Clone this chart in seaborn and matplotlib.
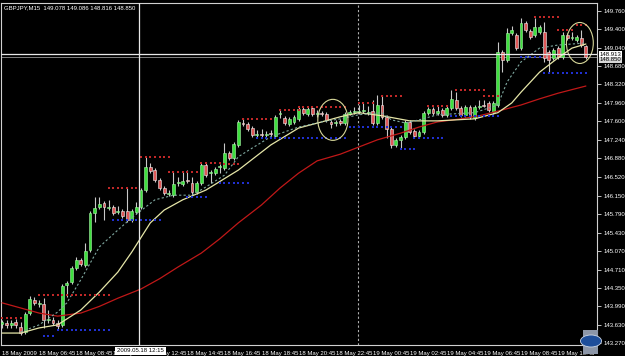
import numpy as np
import pandas as pd
import matplotlib
matplotlib.use("Agg")
import matplotlib.pyplot as plt
import matplotlib.transforms as mtransforms
from matplotlib.patches import Ellipse, Rectangle, Circle
import seaborn as sns

# ---------------- data (GBPJPY M15) ----------------
opens = [143.65, 143.67, 143.63, 143.69, 143.59, 143.49, 143.86, 144.12, 144.04, 144.04,
         143.73, 143.73, 143.67, 143.63, 144.41, 144.47, 144.74, 144.90, 144.80, 145.09,
         145.81, 145.93, 146.01, 145.91, 145.93, 145.83, 145.85, 145.85, 145.68, 145.83,
         145.93, 146.26, 146.71, 146.65, 146.46, 146.30, 146.18, 146.16, 146.40, 146.38,
         146.46, 146.40, 146.22, 146.40, 146.75, 146.59, 146.59, 146.71, 146.69, 146.98,
         146.89, 147.14, 147.57, 147.55, 147.47, 147.33, 147.35, 147.33, 147.37, 147.32,
         147.75, 147.67, 147.55, 147.59, 147.65, 147.84, 147.75, 147.86, 147.75, 147.77,
         147.75, 147.59, 147.57, 147.61, 147.57, 147.75, 147.79, 147.79, 147.81, 147.77,
         147.81, 147.57, 147.92, 147.69, 147.45, 147.14, 147.24, 147.30, 147.59, 147.41,
         147.32, 147.39, 147.77, 147.84, 147.77, 147.82, 147.73, 147.86, 148.02, 147.86,
         147.73, 147.88, 147.67, 147.88, 147.92, 147.96, 147.79, 147.92, 148.95, 148.80,
         149.33, 149.29, 149.03, 149.52, 149.36, 149.29, 149.35, 149.35, 148.95, 148.84,
         149.03, 148.86, 149.29, 149.23, 149.19, 149.23, 149.08]
highs = [143.73, 143.73, 143.73, 143.74, 143.69, 143.88, 144.19, 144.17, 144.12, 144.15,
         143.92, 143.78, 143.73, 144.43, 144.49, 144.78, 144.95, 144.93, 145.23, 145.85,
         146.12, 146.12, 146.05, 146.07, 145.97, 145.95, 145.89, 146.30, 145.89, 146.03,
         146.30, 146.91, 146.79, 146.69, 146.50, 146.34, 146.26, 146.61, 146.52, 146.61,
         146.65, 146.52, 146.44, 146.79, 146.79, 146.65, 146.71, 146.77, 147.18, 147.02,
         147.20, 147.63, 147.67, 147.59, 147.51, 147.43, 147.45, 147.41, 147.43, 147.73,
         147.84, 147.71, 147.69, 147.73, 147.88, 147.88, 147.88, 147.90, 147.82, 147.81,
         147.79, 147.63, 147.63, 147.65, 147.79, 147.82, 147.88, 147.92, 147.96, 147.90,
         148.02, 148.11, 148.11, 147.73, 147.49, 147.28, 147.33, 147.63, 147.63, 147.45,
         147.43, 147.81, 147.88, 147.88, 147.90, 147.86, 147.92, 148.21, 148.17, 147.90,
         147.92, 147.92, 147.92, 148.02, 148.02, 148.00, 148.00, 149.15, 148.99, 149.42,
         149.46, 149.33, 149.62, 149.56, 149.40, 149.62, 149.48, 149.54, 148.99, 149.03,
         149.07, 149.35, 149.33, 149.35, 149.29, 149.38, 149.09]
lows = [143.57, 143.57, 143.57, 143.57, 143.43, 143.45, 143.82, 144.02, 143.98, 143.57,
        143.67, 143.63, 143.53, 143.59, 144.17, 144.43, 144.70, 144.78, 144.76, 145.05,
        145.64, 145.89, 145.68, 145.87, 145.78, 145.79, 145.72, 145.64, 145.64, 145.79,
        145.89, 146.22, 146.59, 146.42, 146.26, 146.16, 146.14, 146.12, 146.34, 146.34,
        146.40, 146.12, 146.18, 146.36, 146.52, 146.40, 146.55, 146.59, 146.65, 146.85,
        146.85, 147.10, 147.51, 147.41, 147.30, 147.30, 147.30, 147.30, 147.32, 147.28,
        147.67, 147.53, 147.51, 147.55, 147.61, 147.73, 147.71, 147.71, 147.69, 147.71,
        147.59, 147.47, 147.51, 147.53, 147.53, 147.73, 147.75, 147.75, 147.77, 147.73,
        147.53, 147.53, 147.65, 147.28, 147.08, 147.10, 147.08, 147.26, 147.35, 147.28,
        147.28, 147.35, 147.73, 147.73, 147.73, 147.69, 147.69, 147.82, 147.82, 147.69,
        147.69, 147.65, 147.63, 147.84, 147.88, 147.79, 147.75, 147.88, 148.56, 148.76,
        149.29, 148.99, 148.99, 149.35, 149.21, 149.25, 149.31, 148.76, 148.55, 148.80,
        148.82, 148.82, 149.19, 149.19, 149.15, 149.05, 148.82]
closes = [143.69, 143.63, 143.67, 143.63, 143.47, 143.84, 144.13, 144.06, 144.06, 143.73,
          143.74, 143.67, 143.61, 144.39, 144.45, 144.74, 144.90, 144.82, 145.07, 145.81,
          145.91, 145.99, 145.93, 145.93, 145.81, 145.85, 145.76, 145.68, 145.85, 145.93,
          146.26, 146.71, 146.63, 146.46, 146.30, 146.20, 146.20, 146.38, 146.42, 146.44,
          146.44, 146.22, 146.40, 146.75, 146.55, 146.61, 146.67, 146.73, 146.98, 146.89,
          147.16, 147.59, 147.55, 147.45, 147.33, 147.35, 147.33, 147.35, 147.35, 147.69,
          147.77, 147.57, 147.65, 147.69, 147.84, 147.77, 147.84, 147.75, 147.77, 147.75,
          147.63, 147.55, 147.59, 147.57, 147.75, 147.79, 147.79, 147.81, 147.82, 147.79,
          147.57, 147.92, 147.69, 147.45, 147.14, 147.24, 147.30, 147.59, 147.39, 147.32,
          147.39, 147.77, 147.84, 147.77, 147.81, 147.73, 147.86, 148.04, 147.86, 147.73,
          147.88, 147.69, 147.88, 147.90, 147.91, 147.82, 147.96, 148.95, 148.80, 149.33,
          149.38, 149.03, 149.52, 149.38, 149.25, 149.44, 149.44, 148.84, 148.80, 148.99,
          148.86, 149.29, 149.23, 149.25, 149.25, 149.09, 148.85]

# slow moving average (red)
slow_ma_idx = [0, 4, 8, 12, 17, 21, 25, 30, 34, 38, 43, 47, 51, 56, 60, 64, 68, 73, 77, 81,
               86, 90, 94, 99, 103, 107, 112, 116, 120, 126]
slow_ma_val = [144.06, 143.96, 143.86, 143.80, 143.86, 143.99, 144.15, 144.33, 144.53, 144.76,
               145.03, 145.31, 145.62, 145.97, 146.30, 146.59, 146.83, 146.96, 147.10, 147.24,
               147.37, 147.49, 147.59, 147.65, 147.71, 147.80, 147.92, 148.04, 148.15, 148.29]
# medium moving average (pale yellow)
mid_ma_idx = [0, 4, 8, 12, 17, 21, 25, 28, 32, 35, 39, 44, 51, 58, 64, 69, 73, 77, 82, 88,
              94, 102, 107, 110, 112, 116, 120, 123, 126]
mid_ma_val = [143.47, 143.47, 143.57, 143.63, 143.92, 144.27, 144.66, 145.05, 145.62, 145.87,
              146.07, 146.26, 146.65, 147.14, 147.47, 147.59, 147.69, 147.77, 147.71, 147.61,
              147.61, 147.65, 147.77, 147.96, 148.17, 148.56, 148.84, 149.03, 149.11]
# fast moving average (dashed)
fast_ma_idx = [4, 8, 12, 14, 17, 21, 25, 28, 33, 37, 41, 44, 48, 51, 54, 58, 64, 69, 73, 77,
               82, 84, 87, 90, 94, 102, 107, 109, 112, 116, 120, 126]
fast_ma_val = [143.49, 143.63, 143.88, 144.06, 144.51, 145.15, 145.48, 145.72, 146.07, 146.16,
               146.16, 146.32, 146.55, 146.91, 147.08, 147.30, 147.49, 147.59, 147.65, 147.73,
               147.77, 147.63, 147.57, 147.63, 147.73, 147.77, 147.92, 148.37, 148.76, 149.03,
               149.09, 149.13]

# fractal-style levels: (price, first bar, last bar)
res_price = [143.76, 144.21, 146.30, 146.91, 146.61, 146.79, 146.77, 147.65, 147.82, 147.88,
             147.96, 148.10, 147.90, 148.21, 148.10, 149.64, 149.38, 149.48]
res_start = [0, 8, 23, 30, 36, 43, 48, 52, 60, 64, 77, 82, 92, 98, 104, 115, 120, 124]
res_end = [4, 23, 29, 36, 42, 47, 51, 58, 64, 74, 80, 86, 96, 104, 107, 120, 123, 126]
sup_price = [143.41, 143.53, 145.68, 146.12, 146.40, 147.28, 147.28, 147.49, 147.06, 147.28,
             147.71, 148.86, 148.55]
sup_start = [9, 12, 24, 40, 47, 55, 64, 75, 86, 89, 97, 112, 117]
sup_end = [11, 23, 34, 44, 53, 64, 74, 86, 89, 95, 107, 116, 126]

ytick_vals = [149.760, 149.400, 149.040, 148.680, 148.320, 147.960, 147.600, 147.240, 146.880,
              146.520, 146.150, 145.790, 145.430, 145.070, 144.710, 144.350, 143.990, 143.630,
              143.270]
ytick_labels = ["149.760", "149.400", "149.040", "148.680", "148.320", "147.960", "147.600",
                "147.240", "146.880", "146.520", "146.150", "145.790", "145.430", "145.070",
                "144.710", "144.350", "143.990", "143.630", "143.270"]
xtick_idx = [0, 8, 16, 24, 32, 40, 48, 56, 64, 72, 80, 88, 96, 104, 112, 120]
xtick_labels = ["18 May 2009", "18 May 06:45", "18 May 08:45", "18 May 10:45", "18 May 12:45",
                "18 May 14:45", "18 May 16:45", "18 May 18:45", "18 May 20:45", "18 May 22:45",
                "19 May 00:45", "19 May 02:45", "19 May 04:45", "19 May 06:45", "19 May 08:45",
                "19 May 10:45"]
title_text = "GBPJPY,M15  149.078 149.086 148.816 148.850"
cross_price = 148.913
cross_bar = 29.6
cross_label = "2009.05.18 12:15"
bid_price = 148.850
day_sep_bar = 76.8
circles = [(71.4, 147.63, 6.5, 0.80), (124.7, 149.13, 5.8, 0.80)]

# ---------------- figure ----------------
sns.set_style("dark")
FONT = ["Liberation Sans", "DejaVu Sans"]
plt.rcParams["font.family"] = FONT
FS = 4.3

W, H = 625, 356
fig = plt.figure(figsize=(W / 100, H / 100), dpi=100, facecolor="black")
ax = fig.add_axes([1 / W, 11 / H, 596 / W, 342 / H])
ax.set_facecolor("black")
ax.grid(False)

o = np.array(opens); h = np.array(highs); l = np.array(lows); c = np.array(closes)
idx = np.arange(len(c))
up = c >= o

# wicks
ax.vlines(idx, l, h, color="#C8C8C8", lw=0.8, zorder=3)
bottom = np.minimum(o, c)
height = np.maximum(np.abs(c - o), 0.006)
ax.bar(idx[up], height[up], bottom=bottom[up], width=0.62, color="#3EE03E",
       edgecolor="#A8F5A8", lw=0.4, zorder=4)
ax.bar(idx[~up], height[~up], bottom=bottom[~up], width=0.62, color="#E05858",
       edgecolor="#F0F0F0", lw=0.4, zorder=4)

# moving averages through seaborn
slow_df = pd.DataFrame({"bar": slow_ma_idx, "price": slow_ma_val})
mid_df = pd.DataFrame({"bar": mid_ma_idx, "price": mid_ma_val})
fast_df = pd.DataFrame({"bar": fast_ma_idx, "price": fast_ma_val})
sns.lineplot(data=slow_df, x="bar", y="price", ax=ax, color="#C01818", lw=0.9, zorder=5)
sns.lineplot(data=mid_df, x="bar", y="price", ax=ax, color="#E6E6A8", lw=0.9, zorder=5)
sns.lineplot(data=fast_df, x="bar", y="price", ax=ax, color="#7FA8A0", lw=0.8,
             dashes=False, linestyle=(0, (2.0, 2.0)), zorder=5)

# dotted levels
res_rows = [(b, p) for p, s, e in zip(res_price, res_start, res_end) for b in range(s, e + 1)]
sup_rows = [(b, p) for p, s, e in zip(sup_price, sup_start, sup_end) for b in range(s, e + 1)]
res_df = pd.DataFrame(res_rows, columns=["bar", "price"])
sup_df = pd.DataFrame(sup_rows, columns=["bar", "price"])
sns.scatterplot(data=res_df, x="bar", y="price", ax=ax, marker="s", s=2.8,
                color="#C02828", linewidth=0, zorder=6)
sns.scatterplot(data=sup_df, x="bar", y="price", ax=ax, marker="s", s=2.8,
                color="#2030D0", linewidth=0, zorder=6)

# drawn circles
for cx, cy, w, hh in circles:
    ax.add_patch(Ellipse((cx, cy), w, hh, fill=False, ec="#D8D89A", lw=0.8, zorder=7))

# separator, crosshair, bid line
ax.axvline(day_sep_bar, color="#B0B0B0", lw=0.8, ls=(0, (2, 2)), zorder=2)
ax.axvline(cross_bar, color="#E8E8E8", lw=0.9, zorder=8)
ax.axhline(cross_price, color="#E8E8E8", lw=0.9, zorder=8)
ax.axhline(bid_price, color="#808080", lw=0.7, zorder=2)

ax.set_xlim(-0.22, 128.4)
ax.set_ylim(143.237, 149.91)
ax.set_xlabel("")
ax.set_ylabel("")

for sp in ax.spines.values():
    sp.set_color("#D0D0D0")
    sp.set_linewidth(0.8)

ax.yaxis.tick_right()
ax.set_yticks(ytick_vals)
ax.set_yticklabels(ytick_labels)
ax.set_xticks(xtick_idx)
ax.set_xticklabels(xtick_labels)
ax.tick_params(axis="y", colors="#E0E0E0", labelsize=FS, length=3, width=0.6, pad=1.5,
               labelcolor="white")
ax.tick_params(axis="x", colors="#E0E0E0", labelsize=FS, length=3, width=0.6, pad=1.0,
               labelcolor="white")
for t in ax.get_xticklabels():
    t.set_ha("left")

# price boxes on the right axis
trans = mtransforms.blended_transform_factory(ax.transAxes, ax.transData)
ax.text(1.004, bid_price, f"{bid_price:.3f}", transform=trans, fontsize=FS, color="black",
        va="top", ha="left", zorder=9, clip_on=False,
        bbox=dict(boxstyle="square,pad=0.12", fc="#D8D8D8", ec="none"))
ax.text(1.004, cross_price, f"{cross_price:.3f}", transform=trans, fontsize=FS, color="black",
        va="center", ha="left", zorder=10, clip_on=False,
        bbox=dict(boxstyle="square,pad=0.12", fc="white", ec="none"))

# crosshair date label
fig.text(117 / W, 1 - 351 / H, cross_label, fontsize=FS, color="black", va="center",
         ha="left", zorder=10,
         bbox=dict(boxstyle="square,pad=0.3", fc="white", ec="none"))

# header
fig.text(4 / W, 1 - 8 / H, title_text, fontsize=FS, color="white", va="center", ha="left")

# terminal logo in the lower right corner
fig.patches.append(Rectangle((583 / W, 1 - 354 / H), 15 / W, 24 / H, transform=fig.transFigure,
                             fc="#8C96A8", ec="none", zorder=11))
fig.patches.append(Circle((591 / W, 1 - 341 / H), 6 / H, transform=fig.transFigure,
                          fc="#1E4E9A", ec="#CCD6E6", lw=0.6, zorder=12))

fig.savefig("out.png", dpi=100, facecolor="black")
